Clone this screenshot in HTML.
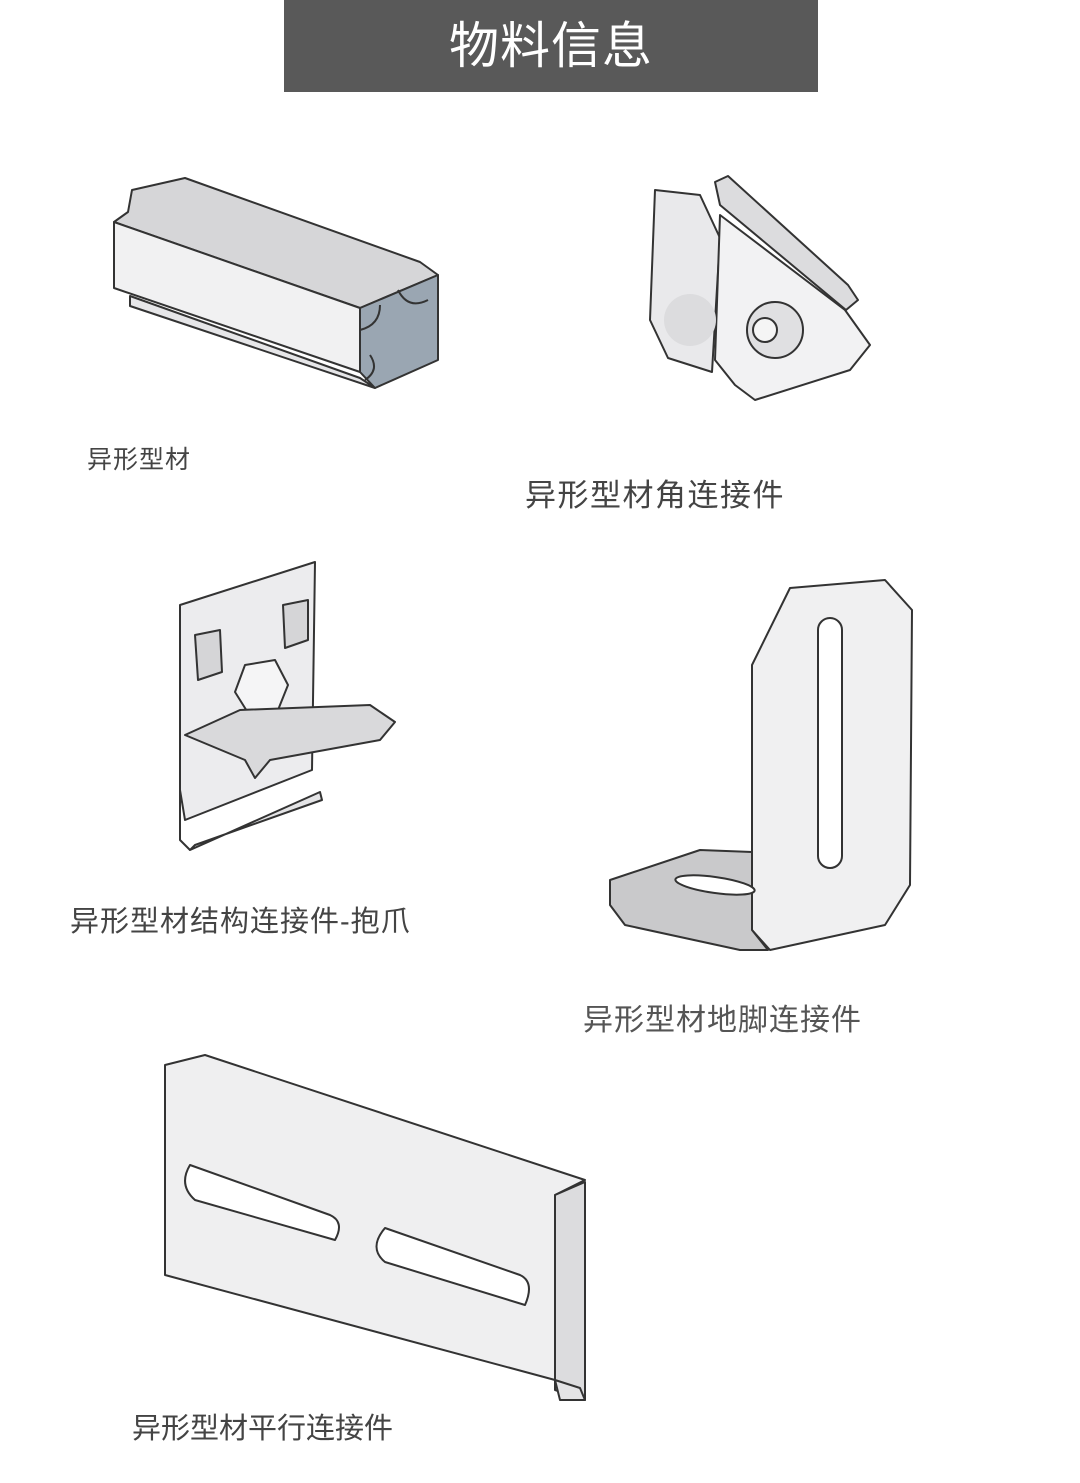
<!DOCTYPE html>
<html><head><meta charset="utf-8"><style>
html,body{margin:0;padding:0;background:#fff;}
body{width:1080px;height:1483px;position:relative;overflow:hidden;font-family:"Liberation Sans","Noto Sans CJK SC",sans-serif;}
.hdr{position:absolute;left:284px;top:0;width:534px;height:92px;background:#595959;color:#fff;font-size:50px;line-height:92px;text-align:center;letter-spacing:1px;}
.lb{position:absolute;color:#444;white-space:nowrap;}
svg{position:absolute;left:0;top:0;}
</style></head><body>
<div class="hdr">物料信息</div>
<svg width="1080" height="1483" viewBox="0 0 1080 1483">
<g stroke="#333" stroke-width="2" stroke-linejoin="round">
<polygon points="132,190 185,178 420,262 438,275 360,308 114,222 128,212" fill="#d6d6d8"/>
<polygon points="114,222 360,308 360,372 114,288" fill="#f1f1f2"/>
<polygon points="130,296 360,378 375,388 130,306" fill="#e6e6e8"/>
<polygon points="360,308 438,275 438,360 375,388 360,372" fill="#9aa6b2"/>
<path d="M360,330 q20,-5 20,-25 M398,290 q10,20 30,10 M365,380 q15,-10 5,-25" fill="none"/>
<polygon points="655,190 700,195 720,238 712,372 668,358 650,320" fill="#e9e9eb"/>
<polygon points="715,182 728,176 848,285 858,300 846,310 720,205" fill="#dcdcde"/>
<polygon points="720,215 845,310 870,345 850,370 755,400 735,385 715,360" fill="#f2f2f3"/>
<circle cx="690" cy="320" r="26" fill="#dcdcde" stroke="none"/>
<circle cx="775" cy="330" r="28" fill="#e0e0e2"/>
<circle cx="765" cy="330" r="12" fill="#f5f5f5"/>
<polygon points="180,605 315,562 312,770 185,820 180,790" fill="#ececee"/>
<polygon points="190,850 320,792 322,800 195,845" fill="#e4e4e6"/>
<path d="M180,790 L180,840 L190,850" fill="none"/>
<polygon points="195,635 220,630 222,672 198,680" fill="#d5d5d7"/>
<polygon points="283,605 308,600 308,640 285,648" fill="#d5d5d7"/>
<polygon points="245,665 275,660 288,685 278,710 250,716 235,692" fill="#f5f5f6"/>
<polygon points="185,735 240,710 370,705 395,722 380,740 270,760 255,778 245,760" fill="#d9d9db"/>
<polygon points="752,665 790,588 885,580 912,610 910,885 885,925 770,950 752,930" fill="#f0f0f1"/>
<rect x="818" y="618" width="24" height="250" rx="12" fill="#fff"/>
<polygon points="610,880 700,850 752,852 752,930 768,950 740,950 625,925 610,905" fill="#c9c9cb"/>
<ellipse cx="715" cy="885" rx="40" ry="8" fill="#fff" transform="rotate(8 715 885)"/>
<polygon points="165,1065 205,1055 585,1180 555,1195 555,1380 165,1275" fill="#efeff0"/>
<polygon points="555,1195 585,1182 585,1400 555,1390" fill="#dcdcde"/>
<polygon points="555,1380 580,1388 585,1400 560,1400" fill="#e4e4e6"/>
<path d="M190,1165 L330,1215 Q345,1222 335,1240 L195,1200 Q178,1185 190,1165 Z" fill="#fff"/>
<path d="M385,1228 L520,1275 Q535,1282 525,1305 L385,1262 Q368,1248 385,1228 Z" fill="#fff"/>
</g>
</svg>
<div class="lb" style="left:87px;top:440px;font-size:25px;letter-spacing:1px;">异形型材</div>
<div class="lb" style="left:525px;top:470px;font-size:31px;letter-spacing:1.5px;">异形型材角连接件</div>
<div class="lb" style="left:70px;top:898px;font-size:29px;letter-spacing:1px;">异形型材结构连接件-抱爪</div>
<div class="lb" style="left:583px;top:995px;font-size:30px;letter-spacing:1px;color:#555;">异形型材地脚连接件</div>
<div class="lb" style="left:132px;top:1405px;font-size:29px;">异形型材平行连接件</div>
</body></html>
